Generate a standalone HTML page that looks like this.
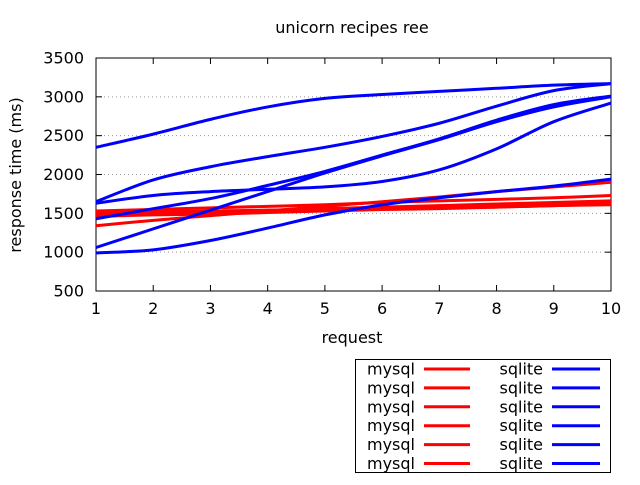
<!DOCTYPE html>
<html><head><meta charset="utf-8"><style>
body{margin:0;background:#fff}
svg text{font-family:"DejaVu Sans","Liberation Sans",sans-serif;fill:#000}
</style></head><body>
<svg id="chart" width="640" height="480" viewBox="0 0 640 480">
<rect width="640" height="480" fill="#fff"/>
<text x="352" y="33" font-size="16" text-anchor="middle">unicorn recipes ree</text>
<text transform="translate(21,175) rotate(-90)" font-size="16" text-anchor="middle">response time (ms)</text>
<text x="352" y="343" font-size="16" text-anchor="middle">request</text>
<g id="grid"></g>
<g id="axes"></g>
<g id="series"></g>
<g id="legend"></g>
</svg>
<script>
const xCats = [1,2,3,4,5,6,7,8,9,10];
const yTicks = [500,1000,1500,2000,2500,3000,3500];
const mysql1 = [1340,1410,1470,1530,1590,1650,1710,1780,1840,1900];
const mysql2 = [1530,1550,1570,1590,1610,1640,1660,1680,1700,1730];
const mysql3 = [1500,1510,1520,1540,1550,1570,1590,1600,1620,1640];
const mysql4 = [1480,1500,1520,1540,1560,1580,1600,1620,1640,1660];
const mysql5 = [1460,1480,1490,1510,1530,1550,1560,1580,1600,1620];
const mysql6 = [1510,1520,1530,1540,1550,1560,1570,1580,1600,1610];
const sqlite1 = [2350,2520,2710,2870,2980,3030,3070,3110,3150,3170];
const sqlite2 = [1650,1930,2100,2230,2350,2490,2660,2880,3080,3170];
const sqlite3 = [1630,1730,1780,1810,1840,1910,2060,2330,2680,2920];
const sqlite4 = [1060,1300,1540,1780,2020,2240,2450,2680,2870,3000];
const sqlite5 = [1430,1560,1690,1860,2040,2250,2460,2700,2900,3010];
const sqlite6 = [990,1030,1150,1310,1480,1610,1700,1780,1850,1940];
const mysqlSeries = [mysql1,mysql2,mysql3,mysql4,mysql5,mysql6];
const sqliteSeries = [sqlite1,sqlite2,sqlite3,sqlite4,sqlite5,sqlite6];

const NS="http://www.w3.org/2000/svg";
const L=96,R=611,T=58,B=291;
const xS=v=>L+(v-1)/9*(R-L);
const yS=v=>B-(v-500)/3000*(B-T);
function mk(tag,attrs,parent){const e=document.createElementNS(NS,tag);for(const k in attrs)e.setAttribute(k,attrs[k]);parent.appendChild(e);return e;}
const grid=document.getElementById('grid'),axes=document.getElementById('axes'),ser=document.getElementById('series'),leg=document.getElementById('legend');
yTicks.forEach(t=>{
  const y=yS(t);
  if(t>500&&t<3500){const g=mk('line',{x1:L,x2:R,y1:y,y2:y,stroke:'#999','stroke-dasharray':'1,3'},grid);
  
  }
  mk('line',{x1:L,x2:L+6,y1:y,y2:y,stroke:'#000'},axes);
  mk('line',{x1:R,x2:R-6,y1:y,y2:y,stroke:'#000'},axes);
  const tx=mk('text',{x:L-12,y:y+5.5,'font-size':16,'text-anchor':'end'},axes);
  tx.textContent=t;
  
  
});
xCats.forEach(c=>{
  const x=xS(c);
  mk('line',{x1:x,x2:x,y1:B,y2:B-6,stroke:'#000'},axes);
  mk('line',{x1:x,x2:x,y1:T,y2:T+6,stroke:'#000'},axes);
  const tx=mk('text',{x:x,y:B+23,'font-size':16,'text-anchor':'middle'},axes);
  tx.textContent=c;
  
  
});
mk('rect',{x:L,y:T,width:R-L,height:B-T,fill:'none',stroke:'#000','stroke-width':1},axes);
function pathFor(vals){
  const p=vals.map((v,i)=>[xS(xCats[i]),yS(v)]);
  let d=`M${p[0][0]},${p[0][1]}`;
  for(let i=0;i<p.length-1;i++){
    const p0=p[Math.max(0,i-1)],p1=p[i],p2=p[i+1],p3=p[Math.min(p.length-1,i+2)];
    const c1=[p1[0]+(p2[0]-p0[0])/6,p1[1]+(p2[1]-p0[1])/6];
    const c2=[p2[0]-(p3[0]-p1[0])/6,p2[1]-(p3[1]-p1[1])/6];
    d+=` C${c1[0]},${c1[1]} ${c2[0]},${c2[1]} ${p2[0]},${p2[1]}`;
  }
  return d;
}
mysqlSeries.forEach((s,i)=>{
  const p=mk('path',{d:pathFor(s),fill:'none',stroke:'#f00','stroke-width':3},ser);
  
  
});
sqliteSeries.forEach((s,i)=>{
  const p=mk('path',{d:pathFor(s),fill:'none',stroke:'#00f','stroke-width':3},ser);
  
  
});
mk('rect',{x:355.5,y:359.5,width:255,height:113,fill:'#fff',stroke:'#000'},leg);
for(let i=0;i<6;i++){
  const y=369+i*18.9;
  const t1=mk('text',{x:415,y:y+5.5,'font-size':16,'text-anchor':'end'},leg);
  t1.textContent='mysql';
  
  
  const l1=mk('line',{x1:424,x2:470,y1:y,y2:y,stroke:'#f00','stroke-width':3},leg);
  
  
  const t2=mk('text',{x:543,y:y+5.5,'font-size':16,'text-anchor':'end'},leg);
  t2.textContent='sqlite';
  
  
  const l2=mk('line',{x1:552,x2:600,y1:y,y2:y,stroke:'#00f','stroke-width':3},leg);
  
  
}
</script>
</body></html>
